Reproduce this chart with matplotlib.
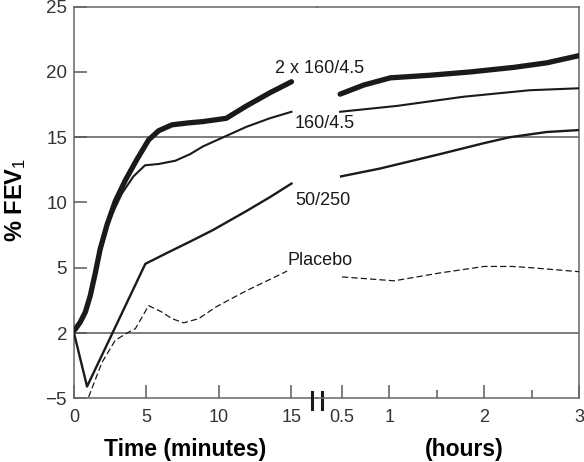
import matplotlib.pyplot as plt

plt.rcParams['font.family'] = ['Liberation Sans', 'DejaVu Sans']
plt.rcParams['mathtext.fontset'] = 'custom'
plt.rcParams['mathtext.rm'] = 'Liberation Sans'
plt.rcParams['mathtext.default'] = 'rm'

# Tiempo en minutos (primer tramo)
min_2x = [0, 0.09, 0.43, 0.78, 1.12, 1.47, 1.81, 2.28, 2.85, 3.54, 4.34, 5.15, 5.84,
          6.76, 7.9, 8.9, 10.5, 11.9, 13.5, 15.0]
val_2x = [0.2, 0.3, 0.83, 1.6, 2.85, 4.6, 6.45, 8.3, 10.1, 11.7, 13.3, 14.8, 15.5,
          15.95, 16.1, 16.2, 16.45, 17.4, 18.4, 19.25]

min_160 = [0, 0.43, 0.78, 1.12, 1.47, 1.81, 2.1, 2.5, 3.31, 4.1, 4.9, 5.84, 6.99,
           8.0, 8.9, 10.5, 11.9, 13.5, 15.0]
val_160 = [0.1, 0.7, 1.5, 2.7, 4.4, 6.1, 7.3, 8.8, 10.7, 12.0, 12.85, 12.95, 13.2,
           13.7, 14.3, 15.1, 15.8, 16.45, 16.95]

min_50 = [0, 0.9, 4.92, 6.53, 8.0, 9.6, 11.9, 13.5, 15.0]
val_50 = [0, -4.1, 5.3, 6.2, 7.0, 7.9, 9.35, 10.4, 11.45]

min_pla = [1.01, 1.93, 2.85, 3.77, 4.23, 5.15, 6.07, 6.76, 7.56, 8.6, 9.8, 10.8,
           12.0, 13.5, 14.7]
val_pla = [-4.9, -2.25, -0.55, 0.07, 0.33, 2.1, 1.6, 1.1, 0.78, 1.1, 2.0, 2.6,
           3.3, 4.1, 4.75]

# Tiempo en horas (segundo tramo)
hr_2x = [0.48, 0.73, 1.01, 1.43, 1.85, 2.31, 2.66, 3.0]
hval_2x = [18.3, 19.0, 19.55, 19.75, 20.0, 20.35, 20.7, 21.25]

hr_160 = [0.48, 1.08, 1.78, 2.48, 3.0]
hval_160 = [16.95, 17.4, 18.1, 18.6, 18.75]

hr_50 = [0.49, 0.9, 1.53, 2.0, 2.27, 2.66, 3.0]
hval_50 = [12.0, 12.6, 13.7, 14.55, 15.0, 15.4, 15.55]

hr_pla = [0.5, 1.05, 1.53, 2.0, 2.3, 2.5, 3.0]
hval_pla = [4.3, 4.0, 4.6, 5.1, 5.1, 5.0, 4.7]

# Ejes y etiquetas
y_ticks = [-5, 0, 5, 10, 15, 20, 25]
y_labels = ['\u22125', '2', '5', '10', '15', '20', '25']
min_ticks = [0, 5, 10, 15]
min_labels = ['0', '5', '10', '15']
hr_ticks = [0.5, 1, 2, 3]
hr_labels = ['0.5', '1', '2', '3']
hr_minor = [1.5, 2.5]

negro = '#1a1a1a'
gris = '#5a5a5a'

fig = plt.figure(figsize=(5.84, 4.62), dpi=100)
ax1 = fig.add_axes([0.1267, 0.1379, 0.4161, 0.8476])
ax2 = fig.add_axes([0.5428, 0.1379, 0.4486, 0.8476], sharey=ax1)

for ax in (ax1, ax2):
    ax.set_facecolor('none')
    ax.axhline(15, color=gris, lw=1.1, zorder=1)
    ax.axhline(0, color=gris, lw=1.1, zorder=1)
    for s in ax.spines.values():
        s.set_color('#666666')
        s.set_linewidth(1.1)

# Curvas - minutos
ax1.plot(min_2x, val_2x, color=negro, lw=3.8, solid_capstyle='round',
         solid_joinstyle='round', zorder=3)
ax1.plot(min_160, val_160, color=negro, lw=1.5, solid_joinstyle='round', zorder=3)
ax1.plot(min_50, val_50, color=negro, lw=1.7, solid_joinstyle='round', zorder=3)
ax1.plot(min_pla, val_pla, color=negro, lw=0.9, linestyle=(0, (5, 2.5)), zorder=3)

# Curvas - horas
ax2.plot(hr_2x, hval_2x, color=negro, lw=3.8, solid_capstyle='round',
         solid_joinstyle='round', zorder=3)
ax2.plot(hr_160, hval_160, color=negro, lw=1.5, solid_joinstyle='round', zorder=3)
ax2.plot(hr_50, hval_50, color=negro, lw=1.7, solid_joinstyle='round', zorder=3)
ax2.plot(hr_pla, hval_pla, color=negro, lw=0.9, linestyle=(0, (5, 2.5)), zorder=3)

ax1.set_xlim(0, 16.76)
ax2.set_xlim(0.236, 3.0)
ax1.set_ylim(-5, 25)

ax1.spines['right'].set_visible(False)
ax2.spines['left'].set_visible(False)

ax1.set_yticks(y_ticks)
ax1.set_yticklabels(y_labels)
ax1.set_xticks(min_ticks)
ax1.set_xticklabels(min_labels)
ax1.tick_params(axis='y', direction='in', length=9, width=1.1, color=gris,
                labelsize=13.5, labelcolor='#333333', pad=5)
ax1.tick_params(axis='x', direction='in', length=9.5, width=1.1, color=gris,
                labelsize=13, labelcolor='#333333', pad=8)

ax2.set_xticks(hr_ticks)
ax2.set_xticklabels(hr_labels)
ax2.set_xticks(hr_minor, minor=True)
ax2.tick_params(axis='y', left=False, labelleft=False)
ax2.tick_params(axis='x', which='major', direction='in', length=9.5, width=1.1,
                color=gris, labelsize=13, labelcolor='#333333', pad=8)
ax2.tick_params(axis='x', which='minor', direction='in', length=6, width=1.1, color=gris)

# Marca de corte del eje
for xb in (16.41, 17.10):
    ax1.plot([xb, xb], [-0.027, 0.017], transform=ax1.get_xaxis_transform(),
             clip_on=False, color=negro, lw=2.2, zorder=5)

# Etiquetas de las curvas
ax1.text(13.86, 20.3, '2 x 160/4.5', fontsize=13, va='center', ha='left', color=negro)
ax1.text(15.24, 16.05, '160/4.5', fontsize=13, va='center', ha='left', color=negro)
ax1.text(15.24, 10.15, '50/250', fontsize=13, va='center', ha='left', color=negro)
ax1.text(14.76, 5.55, 'Placebo', fontsize=13, va='center', ha='left', color=negro)

fig.text(0.317, 0.028, 'Time (minutes)', fontsize=16.5, fontweight='bold', ha='center', va='center')
fig.text(0.795, 0.028, '(hours)', fontsize=16.5, fontweight='bold', ha='center', va='center')
fig.text(0.026, 0.567, '% FEV$_1$', fontsize=17, fontweight='bold', rotation=90,
         ha='center', va='center')

plt.savefig('out.png', dpi=100)
